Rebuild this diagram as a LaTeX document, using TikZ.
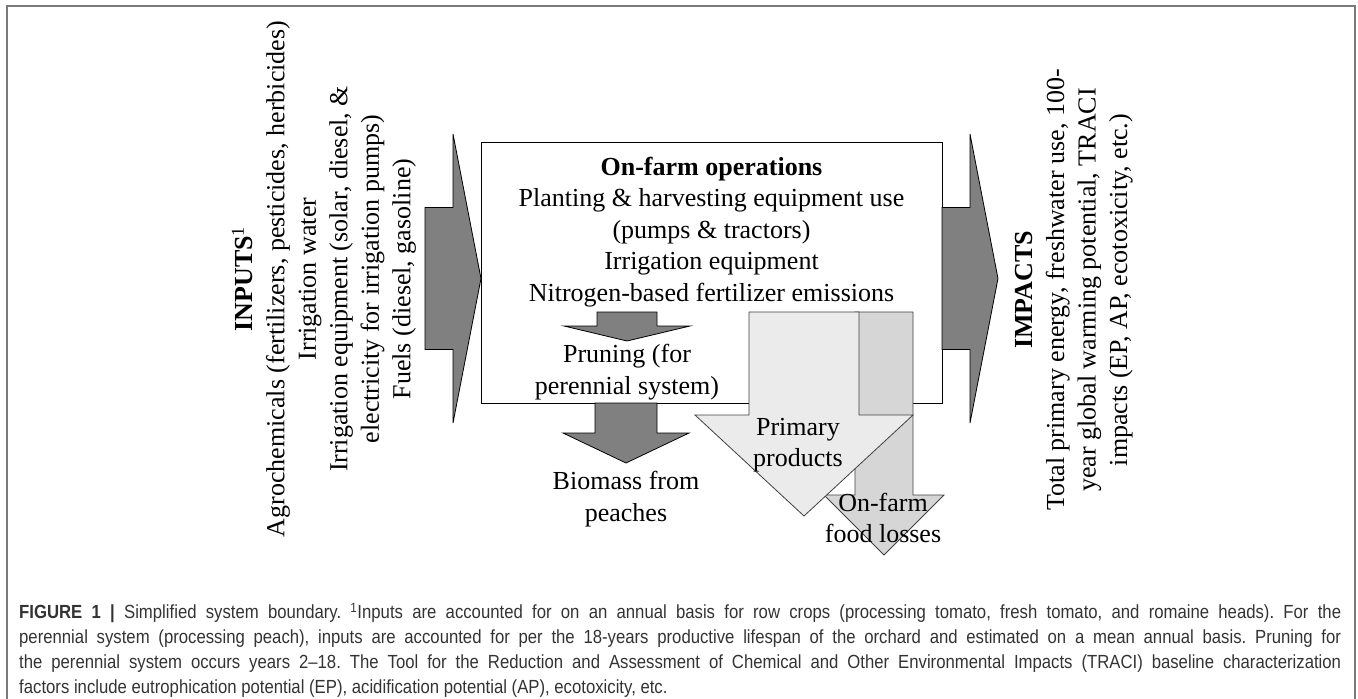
\documentclass[tikz,border=0pt]{standalone}
\usepackage{fontspec}
\setmainfont{Liberation Serif}
\newfontfamily\capfont[FakeStretch=0.88,Ligatures=TeX]{Liberation Sans}
\definecolor{darkfill}{HTML}{808080}
\definecolor{lightfill}{HTML}{EBEBEB}
\definecolor{lossfill}{HTML}{D6D6D6}
\definecolor{framegray}{HTML}{7A7A7A}
\definecolor{captext}{HTML}{333333}
% arrow pointing down: style, x centre, y top, body half width, head half width, y head base, y tip
\newcommand{\blockdown}[7]{%
	\filldraw[#1] (#2-#4,#3) -- (#2+#4,#3) -- (#2+#4,#6) -- (#2+#5,#6)
		-- (#2,#7) -- (#2-#5,#6) -- (#2-#4,#6) -- cycle;}
% arrow pointing right: style, x left, x notch, x tip, body half height, head half height, y centre
\newcommand{\blockright}[7]{%
	\filldraw[#1] (#2,#7-#5) -- (#3,#7-#5) -- (#3,#7-#6) -- (#4,#7)
		-- (#3,#7+#6) -- (#3,#7+#5) -- (#2,#7+#5) -- cycle;}
\begin{document}
\begin{tikzpicture}[x=1pt,y=-1pt,
	darkarrow/.style={fill=darkfill,draw=black,line width=0.8pt},
	lightarrow/.style={fill=lightfill,draw=black!75,line width=0.8pt},
	lossarrow/.style={fill=lossfill,draw=black!75,line width=0.8pt},
	txt/.style={font=\fontsize{26}{31.5}\selectfont,align=center,inner sep=0pt}]
	\useasboundingbox (0,0) rectangle (1358,699);
%Frame
	\draw[draw=framegray,line width=1.5pt] (7,699) -- (7,6) -- (1355,6) -- (1355,699);
%Inputs
	\blockright{darkarrow}{425}{453}{481}{71}{144.5}{278.5}
	\node[txt,rotate=90] (inputs) at (324,279)
		{\textbf{INPUTS}\textsuperscript{1}\\
		Agrochemicals (fertilizers, pesticides, herbicides)\\
		Irrigation water\\
		Irrigation equipment (solar, diesel, \&\\
		electricity for irrigation pumps)\\
		Fuels (diesel, gasoline)};
%On-farm box
	\filldraw[fill=white,draw=black,line width=1pt] (481,142) rectangle (942,403);
	\node[txt] (ops) at (711.5,232)
		{\textbf{On-farm operations}\\
		Planting \& harvesting equipment use\\
		(pumps \& tractors)\\
		Irrigation equipment\\
		Nitrogen-based fertilizer emissions};
%Impacts
	\blockright{darkarrow}{942}{970}{998}{71}{144.5}{278.5}
	\node[txt,rotate=90] (impacts) at (1074,290)
		{\textbf{IMPACTS}\\
		Total primary energy, freshwater use, 100-\\
		year global warming potential, TRACI\\
		impacts (EP, AP, ecotoxicity, etc.)};
%Pruning and biomass
	\blockdown{darkarrow}{627}{312}{30}{63}{326}{341}
	\node[txt] (pruning) at (627,372) {Pruning (for\\perennial system)};
	\blockdown{darkarrow}{626}{403}{31}{63}{433}{463}
	\node[txt] (biomass) at (626,499) {Biomass from\\peaches};
%Products and losses
	\blockdown{lossarrow}{884}{312}{29}{60}{495}{555}
	\blockdown{lightarrow}{804}{312}{55}{109}{415}{516}
	\node[txt] (primary) at (798,445) {Primary\\products};
	\node[txt] (losses) at (883,518) {On-farm\\food losses};
%Caption
	\node[anchor=north west,inner sep=0pt,text width=1322pt,align=justify,
		font=\capfont\fontsize{19}{25}\selectfont,text=captext] (caption) at (19,603)
		{\tolerance=10000\hyphenpenalty=10000\frenchspacing
		\textbf{FIGURE 1 |} Simplified system boundary. \textsuperscript{1}Inputs are accounted for on an annual basis for row crops (processing tomato, fresh tomato, and romaine heads). For the\linebreak
		perennial system (processing peach), inputs are accounted for per the 18-years productive lifespan of the orchard and estimated on a mean annual basis. Pruning for\linebreak
		the perennial system occurs years 2--18. The Tool for the Reduction and Assessment of Chemical and Other Environmental Impacts (TRACI) baseline characterization\linebreak
		factors include eutrophication potential (EP), acidification potential (AP), ecotoxicity, etc.};
\end{tikzpicture}
\end{document}
